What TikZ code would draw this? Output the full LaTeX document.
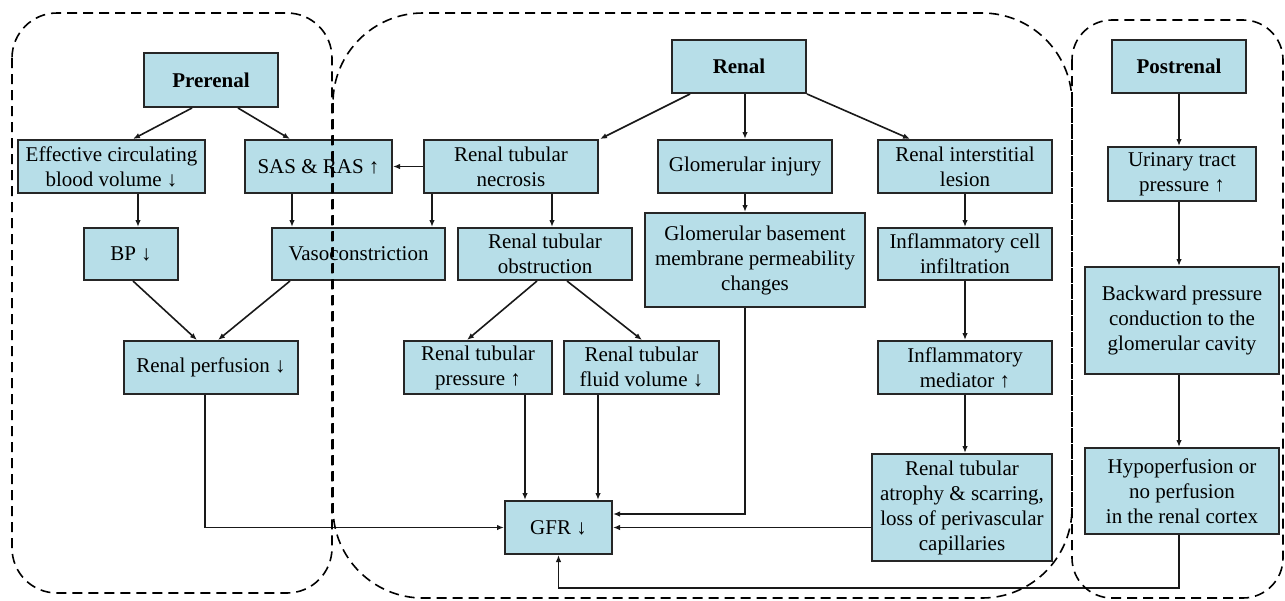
\documentclass[tikz,border=0pt]{standalone}
\usepackage{fontspec}
\setmainfont{Liberation Serif}
\usetikzlibrary{arrows.meta,calc}
\definecolor{boxcyan}{HTML}{B7DEE8}
\tikzset{
	flow/.style={line width=1.6pt, draw=black!90, -{Latex[length=7pt,width=5.5pt]}}
}
\tikzstyle{stage}=[rectangle, draw=black!85, line width=2pt, fill=boxcyan, inner sep=0pt, align=center, font=\fontsize{21}{25}\selectfont]
\tikzstyle{zone}=[dash pattern=on 10pt off 6pt, line width=1.6pt]
\newcommand{\stagebox}[6]{
	\node[stage, minimum width=#4pt, minimum height=#5pt] (#1) at (#2,#3) {#6};
}

\begin{document}
\begin{tikzpicture}[x=1pt, y=-1pt]
	\useasboundingbox (0,0) rectangle (1285,600);
	\stagebox{pre}{211}{80}{134}{54}{\textbf{Prerenal}}
	\stagebox{ecbv}{111.5}{166.5}{187}{53}{Effective circulating\\blood volume ↓}
	\stagebox{sas}{318.5}{166.5}{147}{53}{SAS \& RAS ↑}
	\stagebox{bp}{131}{254}{94}{52}{BP ↓}
	\stagebox{vaso}{358.5}{254}{173}{52}{Vasoconstriction}
	\stagebox{perf}{211}{367.5}{174}{53}{Renal perfusion ↓}
	\stagebox{ren}{739}{66.5}{134}{53}{\textbf{Renal}}
	\stagebox{rtn}{511}{166.5}{174}{53}{Renal tubular\\necrosis}
	\stagebox{gi}{745}{166.5}{174}{53}{Glomerular injury}
	\stagebox{ril}{965}{166.5}{174}{53}{Renal interstitial\\lesion}
	\stagebox{rto}{545}{254}{174}{52}{Renal tubular\\obstruction}
	\stagebox{gbm}{755}{260}{220}{94}{Glomerular basement\\membrane permeability\\changes}
	\stagebox{icf}{965}{254}{174}{52}{Inflammatory cell\\infiltration}
	\stagebox{rtp}{478}{367.5}{148}{53}{Renal tubular\\pressure ↑}
	\stagebox{rtf}{641.5}{367.5}{155}{53}{Renal tubular\\fluid volume ↓}
	\stagebox{med}{965}{367.5}{174}{53}{Inflammatory\\mediator ↑}
	\stagebox{gfr}{558.5}{527.5}{107}{53}{GFR ↓}
	\stagebox{atr}{962}{507.5}{180}{107}{Renal tubular\\atrophy \& scarring,\\loss of perivascular\\capillaries}
	\stagebox{post}{1179}{66.5}{134}{53}{\textbf{Postrenal}}
	\stagebox{utp}{1182}{174}{148}{54}{Urinary tract\\pressure ↑}
	\stagebox{bpc}{1182}{320.5}{194}{107}{Backward pressure\\conduction to the\\glomerular cavity}
	\stagebox{hyp}{1182}{491}{194}{86}{Hypoperfusion or\\no perfusion\\in the renal cortex}

	\draw[flow] ([xshift=-19pt]pre.south) -- ([xshift=21.5pt]ecbv.north);
	\draw[flow] ([xshift=27pt]pre.south) -- ([xshift=-28.5pt]sas.north);
	\draw[flow] ([xshift=26.5pt]ecbv.south) -- ([xshift=7pt]bp.north);
	\draw[flow] ([xshift=-26.5pt]sas.south) -- ([xshift=-66.5pt]vaso.north);
	\draw[flow] (rtn.west) -- (sas.east);
	\draw[flow] ([xshift=-79pt]rtn.south) -- ([xshift=73.5pt]vaso.north);
	\draw[flow] ([xshift=41pt]rtn.south) -- ([xshift=7pt]rto.north);
	\draw[flow] ([xshift=2pt]bp.south) -- ([xshift=-14pt]perf.north);
	\draw[flow] ([xshift=-68.5pt]vaso.south) -- ([xshift=7pt]perf.north);
	\draw[flow] ([xshift=-6pt]perf.south) |- (gfr.west);
	\draw[flow] ([xshift=-49pt]ren.south) -- ([xshift=89pt]rtn.north);
	\draw[flow] ([xshift=6pt]ren.south) -- (gi.north);
	\draw[flow] (ren.south east) -- ([xshift=-55pt]ril.north);
	\draw[flow] (gi.south) -- ([xshift=-10pt]gbm.north);
	\draw[flow] (ril.south) -- (icf.north);
	\draw[flow] (icf.south) -- (med.north);
	\draw[flow] (med.south) -- ([xshift=3pt]atr.north);
	\draw[flow] ([xshift=-8pt]rto.south) -- ([xshift=-11pt]rtp.north);
	\draw[flow] ([xshift=22pt]rto.south) -- ([xshift=0.5pt]rtf.north);
	\draw[flow] ([xshift=47pt]rtp.south) -- ([xshift=-33.5pt]gfr.north);
	\draw[flow] ([xshift=-43.5pt]rtf.south) -- ([xshift=39.5pt]gfr.north);
	\draw[flow] ([xshift=-10pt]gbm.south) |- ([yshift=13.5pt]gfr.east);
	\draw[flow] (atr.west |- gfr.east) -- (gfr.east);
	\draw[flow] (post.south) -- ([xshift=-3pt]utp.north);
	\draw[flow] ([xshift=-3pt]utp.south) -- ([xshift=-3pt]bpc.north);
	\draw[flow] ([xshift=-3pt]bpc.south) -- ([xshift=-3pt]hyp.north);
	\draw[flow] ([xshift=-3pt]hyp.south) -- ++(0,53) -| (gfr.south);

	\draw[zone, rounded corners=45pt] (12,13) rectangle (332,593);
	\draw[zone, rounded corners=90pt] (333,13) rectangle (1072,598);
	\draw[zone, rounded corners=40pt] (1072,20) rectangle (1283,598);
\end{tikzpicture}
\end{document}
